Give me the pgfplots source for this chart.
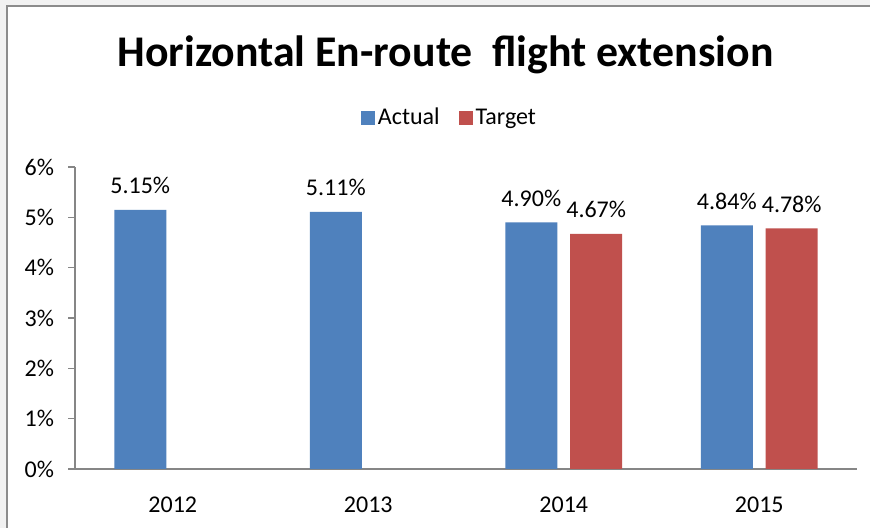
\documentclass[border=0pt]{standalone}
\usepackage{pgfplots}
\pgfplotsset{compat=1.18}
\usepackage{fontspec}
\setmainfont{Carlito}
\definecolor{actualc}{HTML}{4F81BD}
\definecolor{targetc}{HTML}{C0504D}
\definecolor{axisgray}{HTML}{868686}
\definecolor{bordergray}{HTML}{8C8C8C}
\definecolor{outsidegray}{HTML}{F2F2F2}
\newcommand{\tfs}{\fontsize{12}{14}\selectfont}
\begin{document}
\begin{tikzpicture}
\useasboundingbox (0,0) rectangle (435pt,264pt);
\clip (0,0) rectangle (435pt,264pt);
\fill[outsidegray] (0,0) rectangle (435pt,264pt);
\fill[white] (3.5pt,-10pt) rectangle (445pt,260.75pt);
\draw[bordergray, line width=1pt] (3.5pt,-10pt) -- (3.5pt,260.75pt) -- (445pt,260.75pt);
\node[font=\fontsize{21.9}{26}\selectfont\bfseries, anchor=base] at (222.75pt,230.5pt) {Horizontal En-route\ \ flight extension};
\begin{axis}[
  at={(37.5pt,29.5pt)}, anchor=south west,
  scale only axis, width=391pt, height=151pt,
  ybar, bar width=0.266,
  xmin=-0.5, xmax=3.5, ymin=0, ymax=6,
  xtick={0,1,2,3}, xticklabels={2012,2013,2014,2015},
  ytick={0,1,2,3,4,5,6},
  yticklabel={\pgfmathprintnumber{\tick}\%},
  /pgf/number format/assume math mode=true,
  axis x line*=bottom, axis y line*=left,
  axis line style={axisgray, line width=0.75pt},
  x axis line style={-}, y axis line style={-},
  tick style={axisgray, line width=0.75pt},
  tick align=outside,
  major tick length=3.5pt,
  x tick style={draw=none},
  tick label style={font=\tfs},
  xticklabel style={yshift=-7pt},
  yticklabel style={xshift=-3.5pt},
  nodes near coords={\pgfmathprintnumber[fixed,fixed zerofill,precision=2]{\pgfplotspointmeta}\%},
  nodes near coords style={font=\tfs, anchor=base, yshift=8pt},
  legend columns=2,
  legend style={at={(0.4795,1.162)}, anchor=center, draw=none, fill=none,
    font=\tfs, column sep=0pt,
    nodes={inner sep=1.5pt},
    /tikz/every even column/.append style={column sep=8pt}},
  legend image code/.code={\fill[#1] (0pt,-3.5pt) rectangle (7pt,3.5pt);},
]
\addplot[fill=actualc, draw=none, bar shift=-0.166] coordinates {(0,5.15) (1,5.11) (2,4.90) (3,4.84)};
\addplot[fill=targetc, draw=none, bar shift=0.166] coordinates {(2,4.67) (3,4.78)};
\legend{Actual,Target}
\end{axis}
\end{tikzpicture}
\end{document}
